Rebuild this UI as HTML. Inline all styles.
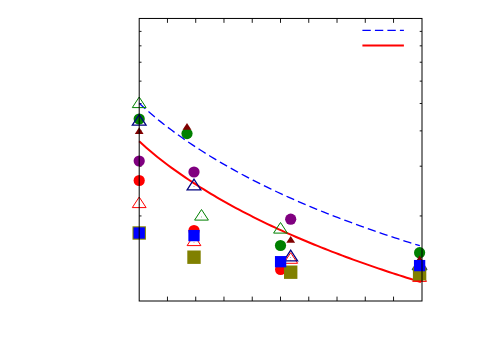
<!DOCTYPE html>
<html><head><meta charset="utf-8"><title>chart</title>
<style>
html,body{margin:0;padding:0;background:#fff;font-family:"Liberation Sans",sans-serif;}
svg{display:block}
</style></head><body>
<svg width="500" height="350" viewBox="0 0 500 350">
<rect width="500" height="350" fill="#ffffff"/>
<g stroke="#000" stroke-width="0.9">
<line x1="167.46" y1="18.45" x2="167.46" y2="22.85"/>
<line x1="167.46" y1="301.0" x2="167.46" y2="296.6"/>
<line x1="195.72" y1="18.45" x2="195.72" y2="22.85"/>
<line x1="195.72" y1="301.0" x2="195.72" y2="296.6"/>
<line x1="223.98" y1="18.45" x2="223.98" y2="22.85"/>
<line x1="223.98" y1="301.0" x2="223.98" y2="296.6"/>
<line x1="252.24" y1="18.45" x2="252.24" y2="22.85"/>
<line x1="252.24" y1="301.0" x2="252.24" y2="296.6"/>
<line x1="280.50" y1="18.45" x2="280.50" y2="22.85"/>
<line x1="280.50" y1="301.0" x2="280.50" y2="296.6"/>
<line x1="308.76" y1="18.45" x2="308.76" y2="22.85"/>
<line x1="308.76" y1="301.0" x2="308.76" y2="296.6"/>
<line x1="337.02" y1="18.45" x2="337.02" y2="22.85"/>
<line x1="337.02" y1="301.0" x2="337.02" y2="296.6"/>
<line x1="365.28" y1="18.45" x2="365.28" y2="22.85"/>
<line x1="365.28" y1="301.0" x2="365.28" y2="296.6"/>
<line x1="393.54" y1="18.45" x2="393.54" y2="22.85"/>
<line x1="393.54" y1="301.0" x2="393.54" y2="296.6"/>
<line x1="139.2" y1="215.94" x2="141.5" y2="215.94"/>
<line x1="422.0" y1="215.94" x2="419.7" y2="215.94"/>
<line x1="139.2" y1="166.19" x2="141.5" y2="166.19"/>
<line x1="422.0" y1="166.19" x2="419.7" y2="166.19"/>
<line x1="139.2" y1="130.89" x2="141.5" y2="130.89"/>
<line x1="422.0" y1="130.89" x2="419.7" y2="130.89"/>
<line x1="139.2" y1="103.51" x2="141.5" y2="103.51"/>
<line x1="422.0" y1="103.51" x2="419.7" y2="103.51"/>
<line x1="139.2" y1="81.13" x2="141.5" y2="81.13"/>
<line x1="422.0" y1="81.13" x2="419.7" y2="81.13"/>
<line x1="139.2" y1="62.22" x2="141.5" y2="62.22"/>
<line x1="422.0" y1="62.22" x2="419.7" y2="62.22"/>
<line x1="139.2" y1="45.83" x2="141.5" y2="45.83"/>
<line x1="422.0" y1="45.83" x2="419.7" y2="45.83"/>
<line x1="139.2" y1="31.38" x2="141.5" y2="31.38"/>
<line x1="422.0" y1="31.38" x2="419.7" y2="31.38"/>
</g>
<g>
<path d="M139.20,103.21 L142.75,106.49 L146.30,109.68 L149.86,112.79 L153.41,115.81 L156.96,118.76 L160.51,121.63 L164.07,124.44 L167.62,127.17 L171.17,129.85 L174.72,132.48 L178.27,135.05 L181.83,137.56 L185.38,140.04 L188.93,142.46 L192.48,144.85 L196.03,147.19 L199.59,149.50 L203.14,151.76 L206.69,154.00 L210.24,156.19 L213.80,158.35 L217.35,160.48 L220.90,162.58 L224.45,164.64 L228.00,166.67 L231.56,168.67 L235.11,170.65 L238.66,172.59 L242.21,174.50 L245.77,176.39 L249.32,178.25 L252.87,180.08 L256.42,181.89 L259.97,183.68 L263.53,185.43 L267.08,187.17 L270.63,188.88 L274.18,190.57 L277.73,192.24 L281.29,193.89 L284.84,195.51 L288.39,197.12 L291.94,198.70 L295.50,200.27 L299.05,201.82 L302.60,203.35 L306.15,204.86 L309.70,206.35 L313.26,207.83 L316.81,209.29 L320.36,210.73 L323.91,212.16 L327.47,213.57 L331.02,214.97 L334.57,216.35 L338.12,217.72 L341.67,219.07 L345.23,220.41 L348.78,221.73 L352.33,223.04 L355.88,224.34 L359.43,225.63 L362.99,226.90 L366.54,228.16 L370.09,229.41 L373.64,230.64 L377.20,231.86 L380.75,233.08 L384.30,234.28 L387.85,235.47 L391.40,236.65 L394.96,237.82 L398.51,238.97 L402.06,240.12 L405.61,241.26 L409.17,242.39 L412.72,243.50 L416.27,244.61 L419.82,245.71" fill="none" stroke="#0000ff" stroke-width="1.3" stroke-dasharray="8.36 4.14"/>
<path d="M139.20,141.29 L142.77,144.54 L146.33,147.72 L149.90,150.82 L153.47,153.83 L157.03,156.75 L160.60,159.57 L164.17,162.30 L167.73,164.97 L171.30,167.57 L174.86,170.13 L178.43,172.65 L182.00,175.14 L185.56,177.59 L189.13,180.00 L192.70,182.37 L196.26,184.69 L199.83,186.97 L203.40,189.21 L206.96,191.41 L210.53,193.57 L214.10,195.70 L217.66,197.79 L221.23,199.85 L224.80,201.88 L228.36,203.87 L231.93,205.84 L235.50,207.77 L239.06,209.68 L242.63,211.55 L246.19,213.41 L249.76,215.23 L253.33,217.03 L256.89,218.82 L260.46,220.58 L264.03,222.32 L267.59,224.03 L271.16,225.73 L274.73,227.40 L278.29,229.05 L281.86,230.68 L285.43,232.29 L288.99,233.87 L292.56,235.44 L296.13,237.00 L299.69,238.53 L303.26,240.04 L306.82,241.54 L310.39,243.02 L313.96,244.48 L317.52,245.93 L321.09,247.36 L324.66,248.78 L328.22,250.18 L331.79,251.56 L335.36,252.94 L338.92,254.29 L342.49,255.63 L346.06,256.96 L349.62,258.28 L353.19,259.58 L356.76,260.87 L360.32,262.15 L363.89,263.41 L367.45,264.66 L371.02,265.90 L374.59,267.13 L378.15,268.35 L381.72,269.55 L385.29,270.75 L388.85,271.93 L392.42,273.10 L395.99,274.26 L399.55,275.41 L403.12,276.56 L406.69,277.69 L410.25,278.81 L413.82,279.92 L417.39,281.02 L420.95,282.12" fill="none" stroke="#ff0000" stroke-width="2"/>
</g>
<g>
<circle cx="139.2" cy="119" r="5.6" fill="#008000"/>
<circle cx="419.6" cy="252.7" r="5.6" fill="#008000"/>
<circle cx="187" cy="133.6" r="5.6" fill="#008000"/>
<circle cx="280.5" cy="245.5" r="5.6" fill="#008000"/>
<circle cx="139.2" cy="180.5" r="5.6" fill="#ff0000"/>
<circle cx="194" cy="230.5" r="5.6" fill="#ff0000"/>
<circle cx="280.6" cy="269.5" r="5.6" fill="#ff0000"/>
<circle cx="419.6" cy="276" r="5.6" fill="#ff0000"/>
<path d="M139.2,197 L132.30,207.60 L146.10,207.60 Z" fill="none" stroke="#ff0000" stroke-width="1.0" stroke-linejoin="miter"/><circle cx="139.2" cy="204.40" r="0.45" fill="#ff0000"/>
<path d="M194,235 L187.10,245.60 L200.90,245.60 Z" fill="none" stroke="#ff0000" stroke-width="1.0" stroke-linejoin="miter"/><circle cx="194" cy="242.40" r="0.45" fill="#ff0000"/>
<path d="M290.7,252.7 L283.80,263.30 L297.60,263.30 Z" fill="none" stroke="#ff0000" stroke-width="1.0" stroke-linejoin="miter"/><circle cx="290.7" cy="260.10" r="0.45" fill="#ff0000"/>
<path d="M419.6,270.8 L412.70,281.40 L426.50,281.40 Z" fill="none" stroke="#ff0000" stroke-width="1.0" stroke-linejoin="miter"/><circle cx="419.6" cy="278.20" r="0.45" fill="#ff0000"/>
<path d="M139.2,114.6 L132.30,125.20 L146.10,125.20 Z" fill="none" stroke="#000080" stroke-width="1.25" stroke-linejoin="miter"/><circle cx="139.2" cy="122.00" r="0.45" fill="#000080"/>
<path d="M194,179.2 L187.10,189.80 L200.90,189.80 Z" fill="none" stroke="#000080" stroke-width="1.25" stroke-linejoin="miter"/><circle cx="194" cy="186.60" r="0.45" fill="#000080"/>
<path d="M290.7,250.2 L283.80,260.80 L297.60,260.80 Z" fill="none" stroke="#000080" stroke-width="1.25" stroke-linejoin="miter"/><circle cx="290.7" cy="257.60" r="0.45" fill="#000080"/>
<path d="M419.6,258.4 L412.70,269.00 L426.50,269.00 Z" fill="none" stroke="#000080" stroke-width="1.25" stroke-linejoin="miter"/><circle cx="419.6" cy="265.80" r="0.45" fill="#000080"/>
<circle cx="139.2" cy="161" r="5.6" fill="#800080"/>
<circle cx="194" cy="172" r="5.6" fill="#800080"/>
<circle cx="290.7" cy="219.2" r="5.6" fill="#800080"/>
<circle cx="419.6" cy="266" r="5.6" fill="#800080"/>
<path d="M139.2,97 L132.30,107.60 L146.10,107.60 Z" fill="none" stroke="#008000" stroke-width="1.0" stroke-linejoin="miter"/><circle cx="139.2" cy="104.40" r="0.45" fill="#008000"/>
<path d="M201.5,209.5 L194.60,220.10 L208.40,220.10 Z" fill="none" stroke="#008000" stroke-width="1.0" stroke-linejoin="miter"/><circle cx="201.5" cy="216.90" r="0.45" fill="#008000"/>
<path d="M280.5,222.5 L273.60,233.10 L287.40,233.10 Z" fill="none" stroke="#008000" stroke-width="1.0" stroke-linejoin="miter"/><circle cx="280.5" cy="229.90" r="0.45" fill="#008000"/>
<path d="M419.6,259.5 L412.70,270.10 L426.50,270.10 Z" fill="none" stroke="#008000" stroke-width="1.0" stroke-linejoin="miter"/><circle cx="419.6" cy="266.90" r="0.45" fill="#008000"/>
<path d="M139.2,127.2 L134.80,134.00 L143.60,134.00 Z" fill="#800000"/>
<path d="M187,122.9 L182.60,129.70 L191.40,129.70 Z" fill="#800000"/>
<path d="M290.7,236 L286.30,242.80 L295.10,242.80 Z" fill="#800000"/>
<path d="M419.6,255.6 L415.20,262.40 L424.00,262.40 Z" fill="#800000"/>
<rect x="132.50" y="226.30" width="13.4" height="13.4" fill="#808000"/>
<rect x="187.30" y="250.50" width="13.4" height="13.4" fill="#808000"/>
<rect x="284.00" y="265.50" width="13.4" height="13.4" fill="#808000"/>
<rect x="412.90" y="267.10" width="13.4" height="13.4" fill="#808000"/>
<rect x="133.55" y="227.35" width="11.3" height="11.3" fill="#0000ff"/>
<rect x="188.35" y="229.95" width="11.3" height="11.3" fill="#0000ff"/>
<rect x="274.95" y="256.05" width="11.3" height="11.3" fill="#0000ff"/>
<rect x="413.95" y="259.95" width="11.3" height="11.3" fill="#0000ff"/>
</g>
<rect x="139.2" y="18.45" width="282.80" height="282.55" fill="none" stroke="#000" stroke-width="1.0"/>
<line x1="362.4" y1="30.3" x2="403.9" y2="30.3" stroke="#0000ff" stroke-width="1.3" stroke-dasharray="8.36 4.14"/>
<line x1="362.4" y1="45.6" x2="403.9" y2="45.6" stroke="#ff0000" stroke-width="2"/>
</svg>
</body></html>
